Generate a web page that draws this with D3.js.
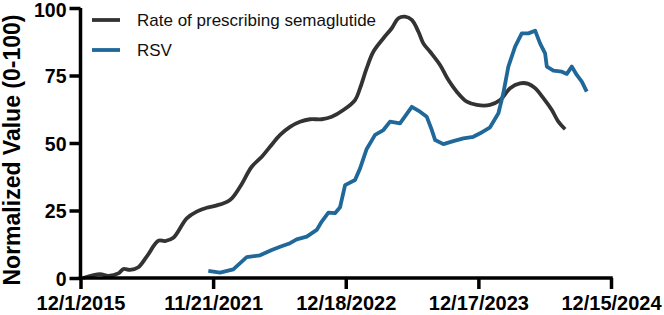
<!DOCTYPE html>
<html><head><meta charset="utf-8">
<script src="https://cdn.jsdelivr.net/npm/d3@7"></script>
<style>
html,body{margin:0;padding:0;background:#fff;}
text{font-family:"Liberation Sans",Arial,sans-serif;}
</style></head>
<body><svg id="c" width="664" height="315"></svg>
<script>
// x positions are in "tick units": 0 = first labelled date, 1 = second, ...
const xTickLabels = ["12/1/2015","11/21/2021","12/18/2022","12/17/2023","12/15/2024"];
const yTicks = [0,25,50,75,100];
const seriesNames = ["Rate of prescribing semaglutide","RSV"];
const semaX = [0.021,0.147,0.210,0.285,0.323,0.373,0.436,0.499,0.587,0.637,0.700,0.801,0.876,0.952,1.014,1.127,1.203,1.291,1.367,1.429,1.505,1.580,1.655,1.731,1.819,1.894,1.982,2.070,2.108,2.158,2.208,2.284,2.347,2.397,2.447,2.498,2.548,2.585,2.636,2.711,2.774,2.837,2.913,2.988,3.088,3.164,3.239,3.314,3.377,3.428,3.490,3.554,3.603,3.654];
const semaY = [0,1.4,0.8,1.7,3.3,3.0,4.0,7.9,13.8,13.7,14.9,22.1,24.6,26.0,26.7,28.9,33.8,41.2,44.9,48.6,53.0,56.0,57.9,58.8,58.8,59.7,62.2,65.9,70.3,77.7,83.8,88.8,92.5,96.2,96.8,95.6,91.2,86.9,83.8,78.9,73.3,69.0,65.3,64.1,64.1,65.9,70.3,72.1,71.9,70.3,66.6,62.2,57.9,55.1];
const rsvX = [0.964,1.052,1.152,1.253,1.354,1.442,1.505,1.580,1.630,1.706,1.781,1.819,1.869,1.919,1.957,1.995,2.070,2.108,2.158,2.221,2.284,2.334,2.409,2.498,2.560,2.611,2.649,2.674,2.736,2.811,2.887,2.962,3.013,3.088,3.151,3.188,3.226,3.277,3.327,3.377,3.428,3.465,3.503,3.516,3.566,3.629,3.667,3.704,3.742,3.780,3.817];
const rsvY = [2.6,2.0,3.2,7.7,8.4,10.4,11.6,12.9,14.3,15.3,17.8,20.9,24.2,24.0,26.2,34.4,36.3,40.6,47.8,53.0,54.8,57.9,57.3,63.4,61.6,59.7,54.8,51.1,49.6,50.7,51.7,52.3,53.6,55.8,61.0,68.4,78.3,85.7,90.6,90.6,91.6,86.9,83.2,78.3,76.8,76.4,75.6,78.3,75.2,72.7,69.0];
const colors = ["#333333","#1f6899"];

const svg = d3.select("#c");
const x = d3.scaleLinear().domain([0,4]).range([80.5,611]);
const y = d3.scaleLinear().domain([0,100]).range([278,8]);
const axW = 3.5;

// lines
const series = [
  {name:seriesNames[0], pts:semaX.map((d,i)=>[d,semaY[i]]), color:colors[0], curve:d3.curveCatmullRom},
  {name:seriesNames[1], pts:rsvX.map((d,i)=>[d,rsvY[i]]), color:colors[1], curve:d3.curveLinear}
];
series.forEach(s=>{
  svg.append("path").datum(s.pts)
    .attr("fill","none").attr("stroke",s.color).attr("stroke-width",3.8)
    .attr("stroke-linejoin","round").attr("stroke-linecap","butt")
    .attr("d",d3.line().x(d=>x(d[0])).y(d=>y(d[1])).curve(s.curve));
});

// axes
const xAxis = d3.axisBottom(x).tickValues(d3.range(xTickLabels.length))
  .tickFormat(i=>xTickLabels[i]).tickSize(11).tickSizeOuter(0);
const gx = svg.append("g").attr("transform",`translate(0,${y(0)})`).call(xAxis);
const yAxis = d3.axisLeft(y).tickValues(yTicks).tickSize(11).tickSizeOuter(0).tickPadding(3);
const gy = svg.append("g").attr("transform",`translate(${x(0)},0)`).call(yAxis);
[gx,gy].forEach(g=>{
  g.select(".domain").attr("stroke","#000").attr("stroke-width",axW);
  g.selectAll(".tick line").attr("stroke","#000").attr("stroke-width",axW);
  g.selectAll(".tick text").attr("fill","#000").attr("font-weight","bold")
   .attr("font-family","'Liberation Sans',Arial,sans-serif");
});
gy.selectAll(".tick text").attr("font-size","19.5px").attr("dy","0.36em");
gy.selectAll(".tick text").filter(d=>d===100).attr("dy","0.42em");
gx.selectAll(".tick text").attr("font-size","20px").attr("dy","0").attr("y",32);
gx.select(".domain").attr("d",`M${x(0)-axW/2},0H${x(4)+axW/2}`);
gy.select(".domain").attr("d",`M0,${y(100)}V${y(0)+axW/2}`);

// y title
svg.append("text").attr("transform","translate(20,150) rotate(-90)")
  .attr("text-anchor","middle").attr("font-size","23px").attr("font-weight","bold")
  .attr("fill","#000").text("Normalized Value (0-100)");

// legend
const leg = svg.append("g");
series.forEach((s,i)=>{
  const ly = 20 + i*30;
  leg.append("line").attr("x1",92).attr("x2",120).attr("y1",ly).attr("y2",ly)
    .attr("stroke",s.color).attr("stroke-width",3.8);
  leg.append("text").attr("x",137).attr("y",ly).attr("dy","0.35em")
    .attr("font-size","17px").attr("fill","#111").text(s.name);
});
</script></body></html>
